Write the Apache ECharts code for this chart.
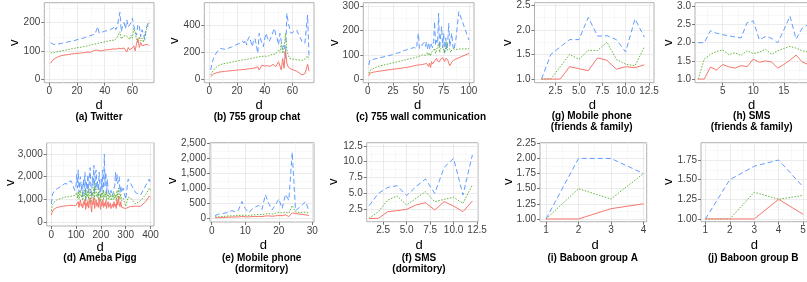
<!DOCTYPE html>
<html><head><meta charset="utf-8">
<script src="https://cdn.jsdelivr.net/npm/echarts@6/dist/echarts.min.js"></script>
<style>html,body{margin:0;padding:0;background:#fff}#c{width:807px;height:282px}</style>
</head><body><div id="c"></div>
<script>
// ---------------- DATA ----------------
// (a) Twitter
const twitterD = [1,2,3,4,5,6,7,8,9,10,11,12,13,14,15,16,17,18,19,20,21,22,23,24,25,26,27,28,29,30,31,32,33,34,35,36,37,38,39,40,41,42,43,44,45,46,47,48,49,50,51,52,53,54,55,56,57,58,59,60,61,62,63,64,65,66,67,68,69,70,71,72];
const twitterRed = [56,65,70,73,76,78,80,82,83,84, 85,86,87,87,88,89,89,90,90,91, 91,92,92,93,94,94,95,96,99,95, 97,101,96,103,99,101,104,100,105,103, 106,104,108,105,110,107,111,106,112,109, 115,108,112,110,103,96,112,104,98,110, 118,100,126,144,112,130,118,125,121,127,123,118];
const twitterGreen = [93,92,93,95,96,97,98,99,100,101, 102,103,104,105,106,107,108,109,110,111, 112,112,113,114,116,115,117,118,120,119, 122,121,124,123,127,125,129,127,131,130, 133,132,135,134,138,140,137,143,148,145, 168,142,150,146,155,162,148,140,155,145, 180,165,140,128,150,135,145,130,160,174,185,198];
const twitterBlue = [129,125,123,122,123,124,125,126,127,128, 129,130,131,132,133,134,135,136,138,140, 141,142,143,145,146,148,150,147,153,150, 156,152,160,157,186,163,158,166,162,170, 165,172,168,176,170,180,188,175,185,178, 237,168,190,200,178,210,185,180,200,216, 190,170,156,195,186,150,175,160,140,180,195,209];
const twitterXTicks = [0,20,40,60], twitterYTicks = [0,100,200];

// (b) 755 group chat
const chatD = [1,2,3,4,5,6,7,8,9,10,11,12,13,14,15,16,17,18,19,20,21,22,23,24,25,26,27,28,29,30,31,32,33,34,35,36,37,38,39,40,41,42,43,44,45,46,47,48,49,50,51,52,53,54,55,56,57,58,59,63,67,69,71,72];
const chatRed = [18,30,38,42,46,49,52,54,55,56, 57,58,60,61,62,63,64,65,66,68, 68,69,70,71,72,73,75,76,77,78, 80,82,84,86,93,68,80,104,113,98, 92,100,105,96,102,110,98,93,100,130, 98,68,155,81,218,120,90,80, 75,60,32,40,110,60];
const chatGreen = [31,50,65,81,90,97,103,108,112,115, 117,118,120,122,125,127,129,131,133,135, 137,139,141,143,145,146,148,150,152,154, 156,158,160,163,165,168,162,170,165,172, 175,170,178,180,176,185,193,188,200,218, 200,268,193,230,343,218,180,155, 150,145,140,150,175,143];
const chatBlue = [68,120,155,175,195,210,220,230,228,225, 222,222,228,232,236,240,243,250,255,260, 265,268,275,285,270,293,255,300,318,280, 243,290,305,250,193,343,300,270,243,300, 343,310,280,268,320,355,380,330,305,255, 343,280,218,255,150,492,420,380, 343,368,280,268,480,168];
const chatXTicks = [0,20,40,60], chatYTicks = [0,200,400];

// (c) 755 wall communication
const wallD = [1,2,3,4,5,6,7,8,9,10,11,12,13,14,15,16,17,18,19,20,21,22,23,24,25,26,27,28,29,30,31,32,33,34,35,36,37,38,39,40,41,42,43,44,45,46,47,48,49,50,51,52,53,54,55,56,57,58,59,60,61,62,63,64,65,66,67,68,69,70,71,72,73,74,75,76,77,78,79,80,81,82,83,84,85,87,90,100];
const wallRed = [13,24,26,27,28,29,30,30,31,32, 33,33,34,34,35,35,36,37,38,38, 39,39,40,40,41,41,42,42,43,43, 44,44,45,45,46,47,47,48,49,49, 50,51,52,53,54,55,54,57,56,58, 55,59,57,60,58,62,60,65,58,52, 66,48,72,62,68,75,70,86,74,80, 72,82,78,88,86,72,85,93,80,65, 55,62,70,75,78, 82,88,106];
const wallGreen = [24,35,38,40,42,44,46,48,50,52, 53,54,55,56,57,58,59,60,61,62, 63,64,65,66,67,68,69,70,71,72, 73,74,75,76,77,78,79,80,81,82, 83,84,85,86,87,88,89,90,92,93, 91,96,94,100,106,98,104,100,110,97, 108,95,110,105,118,127,106,120,112,147, 110,125,118,134,120,106,130,154,118,120, 125,110,120,115,125, 122,124,125];
const wallBlue = [58,79,76,78,80,82,81,84,83,86, 85,88,87,90,88,92,90,94,92,96, 94,98,96,100,98,104,100,106,103,108, 105,110,106,114,108,118,112,120,115,124, 118,126,120,128,122,130,124,126,128,189, 127,135,130,145,140,150,135,154,125,145, 120,150,147,130,155,237,140,160,147,271, 127,180,216,130,189,110,170,120,150,230, 134,160,189,140,120, 160,278,161];
const wallXTicks = [0,25,50,75,100], wallYTicks = [0,100,200,300];

// (d) Ameba Pigg
const amebaD = [1,3,6,10,15,20,25,30,35,40,45,50,55,60,65,70,75,80,85,90,95,100,
 103,106,109,112,115,118,121,124,127,130, 133,136,139,142,145,148,151,154,157,160,
 163,166,169,172,175,178,181,184,187,190, 193,196,199,202,205,208,211,214,217,220,
 223,226,229,232,235,238,241,244,247,250, 253,256,259,262,265,268,271,274,277,280,
 284,290,300,310,320,340,360,380,395,400];
const amebaRed = [310,420,500,560,600,630,650,660,680,690,700,705,715,720,730,735,720,740,750,730,760,740,
 820,700,900,650,850,980,700,800,620,900, 750,1000,560,850,700,950,620,880,1080,700,
 450,900,780,1100,600,820,980,700,850,650, 1050,780,560,900,720,1000,650,850,700,950,
 600,800,900,650,750,850,600,700,800,650, 900,700,800,600,1000,750,1150,800,680,900,
 650,720,600,650,690,700,700,900,1150,1100];
const amebaGreen = [500,650,780,860,920,960,990,1010,1030,1050,1070,1080,1100,1110,1120,1130,1110,1150,1160,1130,1170,1180,
 1300,1050,1350,1000,1250,1400,1100,1200,950,1300, 1150,1450,900,1250,1100,1400,1000,1300,1500,1100,
 800,1300,1150,1550,950,1700,1400,1100,1250,1000, 1450,1200,900,1300,1100,1400,1000,1250,1100,1350,
 950,1200,1300,1000,1150,1250,950,1050,1200,1000, 1300,1050,1200,950,1400,1100,1500,1200,1000,1250,
 950,1050,700,1100,1050,800,950,1200,1500,1400];
const amebaBlue = [800,1100,1250,1320,1400,1450,1480,1500,1550,1600,1620,1650,1700,1720,1680,1780,1750,1820,1700,1550,1400,1600,
 2100,1500,2300,1300,1800,2000,1400,1700,1100,1900, 1500,2200,1000,1800,1400,2100,1300,1900,2400,1500,
 1100,2000,1600,2500,1300,2100,2300,1500,1800,1200, 2200,1700,1100,1900,1400,2300,1300,3000,1600,2200,
 1200,1900,1500,1300,1250,1200,1400,1150,1100,1300, 1500,1600,2200,1800,2100,1700,1900,2000,1300,1600,
 1300,1500,1000,1900,1700,1300,1200,1600,1900,1700];
const amebaXTicks = [0,100,200,300,400], amebaYTicks = [0,1000,2000,3000];

// (e) Mobile phone (dormitory)
const dormD = [1,2,3,4,5,6,7,8,9,10,11,12,13,14,15,16,17,18,19,20,21,22,23,24,25,26,27,28,29];
const dormRed = [20,25,30,35,40,45,48,50,60,55,50,60,62,65,60,80,85,70,85,95,90,120,60,185,160,150,130,120,90];
const dormGreen = [50,55,60,70,80,85,90,95,110,100,95,110,120,130,125,150,160,140,170,200,180,210,170,430,210,200,190,210,170];
const dormBlue = [91,140,150,180,200,260,220,280,560,330,190,300,380,430,300,790,500,280,450,650,330,800,600,2200,260,350,450,560,240];
const dormXTicks = [0,10,20,30], dormYTicks = [0,500,1000,1500,2000,2500];

// (f) SMS (dormitory)
const smsDormD = [1,2,3,4,5,6,7,8,9,10,11,12];
const smsDormRed = [1.0,1.03,2.08,2.25,2.46,3.14,3.51,2.35,3.67,2.98,2.09,3.77];
const smsDormGreen = [1.03,2.08,3.93,4.56,3.14,4.19,5.25,3.67,4.04,4.36,3.41,6.3];
const smsDormBlue = [3.03,4.98,5.93,6.2,4.62,6.04,7.26,4.98,9.1,10.52,4.72,11.05];
const smsDormXTicks = [2.5,5,7.5,10,12.5], smsDormYTicks = [2.5,5,7.5,10,12.5];

// (g) Mobile phone (friends & family)
const ffD = [1,2,3,4,5,6,7,8,9,10,11,12];
const ffRed = [1.0,1.0,1.0,1.25,1.21,1.17,1.43,1.38,1.2,1.25,1.23,1.29];
const ffGreen = [1.0,1.0,1.25,1.5,1.4,1.58,1.58,1.75,1.4,1.3,1.27,1.65];
const ffBlue = [1.0,1.5,1.65,1.8,1.8,2.25,1.87,1.88,1.8,1.55,2.22,1.85];
const ffXTicks = [2.5,5,7.5,10,12.5], ffYTicks = [1,1.5,2,2.5];

// (h) SMS (friends & family)
const smsFfD = [1,2,3,4,5,6,7,8,9,10,11,12,13,14,15,16,17,18,19];
const smsFfRed = [1.0,1.0,1.33,1.25,1.4,1.34,1.3,1.37,1.34,1.55,1.46,1.5,1.47,1.3,1.4,1.52,1.66,1.47,1.4];
const smsFfGreen = [1.0,1.55,1.68,1.76,1.8,1.67,1.72,1.65,1.78,1.7,1.74,1.82,1.68,1.78,1.84,1.9,1.85,1.78,1.74];
const smsFfBlue = [2.0,2.0,2.33,2.26,2.22,2.19,2.16,2.13,2.55,2.6,2.08,2.17,2.12,2.0,2.35,2.73,2.1,2.4,2.5];
const smsFfXTicks = [5,10,15], smsFfYTicks = [1,1.5,2,2.5,3];

// (i) Baboon group A
const baboonAD = [1,2,3,4];
const baboonARed = [1.0,1.0,1.17,1.25];
const baboonAGreen = [1.0,1.5,1.33,1.75];
const baboonABlue = [1.0,2.0,2.0,1.75];
const baboonAXTicks = [1,2,3,4], baboonAYTicks = [1,1.25,1.5,1.75,2,2.25];

// (j) Baboon group B
const baboonBD = [1,2,3,4,5];
const baboonBRed = [1.0,1.0,1.0,1.25,1.06];
const baboonBGreen = [1.0,1.0,1.34,1.25,1.3];
const baboonBBlue = [1.0,1.5,1.67,1.75,1.41];
const baboonBXTicks = [1,2,3,4,5], baboonBYTicks = [1,1.25,1.5,1.75];

// ---------------- LAYOUT / STYLE ----------------
const RED = '#F8766D', GREEN = '#64B43C', BLUE = '#619CFF';
const FONT = '"Liberation Sans", Arial, Helvetica, sans-serif';
const panels = [
 {g:[44.3,2.7,109.7,80], x:[-3.6,75.6,twitterXTicks,0], y:[-13,271,twitterYTicks,0], d:twitterD, s:[twitterRed,twitterGreen,twitterBlue],
  cap:['(a) Twitter'], capX:99, capY:117, dPos:[99,105], vPos:[14,42.7]},
 {g:[204.3,2.7,109.7,80], x:[-3.6,75.6,chatXTicks,0], y:[-27,572,chatYTicks,0], d:chatD, s:[chatRed,chatGreen,chatBlue],
  cap:['(b) 755 group chat'], capX:257, capY:117, dPos:[259,105], vPos:[174,40.7]},
 {g:[363.3,2.7,110.7,80], x:[-4.5,105,wallXTicks,0], y:[-15,315,wallYTicks,0], d:wallD, s:[wallRed,wallGreen,wallBlue],
  cap:['(c) 755 wall communication'], capX:421, capY:117, dPos:[417.7,105], vPos:[334,42.7]},
 {g:[534.5,2.7,119.5,80], x:[0.251,13.03,ffXTicks,1], y:[0.926,2.549,ffYTicks,1], d:ffD, s:[ffRed,ffGreen,ffBlue],
  cap:['(g) Mobile phone','(friends & family)'], capX:591.7, capY:116.7, dPos:[592.3,105], vPos:[507.7,42.7]},
 {g:[695,2.7,122.5,80], x:[0.48,20.5,smsFfXTicks,0], y:[0.9,3.1,smsFfYTicks,1], d:smsFfD, s:[smsFfRed,smsFfGreen,smsFfBlue],
  cap:['(h) SMS','(friends & family)'], capX:751.7, capY:116.7, dPos:[751.7,105], vPos:[668.3,42.7]},
 {g:[46.7,142.7,107.3,83.3], x:[-18,414,amebaXTicks,0], y:[-170,3500,amebaYTicks,'k'], d:amebaD, s:[amebaRed,amebaGreen,amebaBlue],
  cap:['(d) Ameba Pigg'], capX:100, capY:258.3, dPos:[100,247.3], vPos:[10,182.7]},
 {g:[210,142.7,104,79.3], x:[-0.5,30.5,dormXTicks,0], y:[-120,2520,dormYTicks,'k'], d:dormD, s:[dormRed,dormGreen,dormBlue],
  cap:['(e) Mobile phone','(dormitory)'], capX:261.7, capY:258.3, dPos:[263.3,245], vPos:[172.7,180.7]},
 {g:[366.7,142.7,111.3,79], x:[0.755,12.6,smsDormXTicks,1], y:[0.5,13.0,smsDormYTicks,1], d:smsDormD, s:[smsDormRed,smsDormGreen,smsDormBlue],
  cap:['(f) SMS','(dormitory)'], capX:419, capY:258.3, dPos:[419,245], vPos:[333.3,181.7]},
 {g:[540,142.7,106.7,79], x:[0.815,4.1,baboonAXTicks,0], y:[0.955,2.26,baboonAYTicks,2], d:baboonAD, s:[baboonARed,baboonAGreen,baboonABlue],
  cap:['(i) Baboon group A'], capX:592.7, capY:258.3, dPos:[595,245], vPos:[508.3,181.7]},
 {g:[701,142.7,106.9,79], x:[0.82,5.2,baboonBXTicks,0], y:[0.965,1.97,baboonBYTicks,2], d:baboonBD, s:[baboonBRed,baboonBGreen,baboonBBlue],
  cap:['(j) Baboon group B'], capX:753.3, capY:258.3, dPos:[754.3,245], vPos:[668.3,181.7]}
];

function fmt(dec) {
  if (dec === 'k') return v => String(Math.round(v)).replace(/\B(?=(\d{3})+(?!\d))/g, ',');
  return v => Number(v).toFixed(dec);
}
function minors(ticks, min, max) {
  const step = ticks[1] - ticks[0], out = [];
  for (let v = ticks[0] - step / 2; v <= max + 1e-9; v += step) if (v >= min) out.push(+v.toFixed(6));
  return out;
}
const MAJOR = '#e6e6e6', MINOR = '#f3f3f3', TICK = '#555555', LABEL = '#3f3f3f';

const option = {animation:false, grid:[], xAxis:[], yAxis:[], series:[], graphic:[]};
panels.forEach((p, i) => {
  option.grid.push({left:p.g[0], top:p.g[1], width:p.g[2], height:p.g[3], show:true,
    backgroundColor:'#fff', borderColor:'#b0b0b0', borderWidth:1, containLabel:false, outerBoundsMode:'none'});
  const mk = (ax, pos, isMinor) => {
    const [min, max, ticks, dec] = ax;
    if (isMinor) return {gridIndex:i, type:'value', min, max, position:pos,
      axisLine:{show:false, onZero:false}, axisTick:{show:false, customValues:minors(ticks, min, max)},
      axisLabel:{show:false}, splitLine:{show:true, lineStyle:{color:MINOR, width:0.6}}};
    return {gridIndex:i, type:'value', min, max, position:pos,
      axisLine:{show:false, onZero:false},
      axisTick:{show:true, length:3, customValues:ticks, lineStyle:{color:TICK, width:0.8}},
      axisLabel:{show:true, customValues:ticks, formatter:fmt(dec), fontSize:10, color:LABEL, margin:4, fontFamily:FONT},
      splitLine:{show:true, lineStyle:{color:MAJOR, width:0.8}}};
  };
  const xi = option.xAxis.length, yi = option.yAxis.length;
  option.xAxis.push(mk(p.x, 'top', true));
  option.xAxis.push(mk(p.x, 'bottom', false));
  option.yAxis.push(mk(p.y, 'right', true));
  option.yAxis.push(mk(p.y, 'left', false));
  const styles = [
    {color:BLUE, type:[5, 3], vals:p.s[2]},
    {color:GREEN, type:[1.5, 1.5], vals:p.s[1]},
    {color:RED, type:'solid', vals:p.s[0]}
  ];
  styles.forEach(st => {
    option.series.push({type:'line', xAxisIndex:xi + 1, yAxisIndex:yi + 1, symbol:'none', showSymbol:false,
      clip:true, silent:true, lineStyle:{color:st.color, width:1, type:st.type},
      data:p.d.map((x, k) => [x, st.vals[k]])});
  });
  p.cap.forEach((t, k) => option.graphic.push({type:'text', x:p.capX, y:p.capY + k * 10.6, silent:true,
    style:{text:t, font:'bold 10px ' + FONT, fill:'#000', textAlign:'center', textVerticalAlign:'middle'}}));
  option.graphic.push({type:'text', x:p.dPos[0], y:p.dPos[1], silent:true,
    style:{text:'d', font:'13px ' + FONT, fill:'#000', textAlign:'center', textVerticalAlign:'middle'}});
  option.graphic.push({type:'text', x:p.vPos[0], y:p.vPos[1], rotation:Math.PI / 2, silent:true,
    style:{text:'v', font:'13px ' + FONT, fill:'#000', textAlign:'center', textVerticalAlign:'middle'}});
});

const chart = echarts.init(document.getElementById('c'), null, {renderer:'canvas'});
chart.setOption(option);
</script>
</body></html>
